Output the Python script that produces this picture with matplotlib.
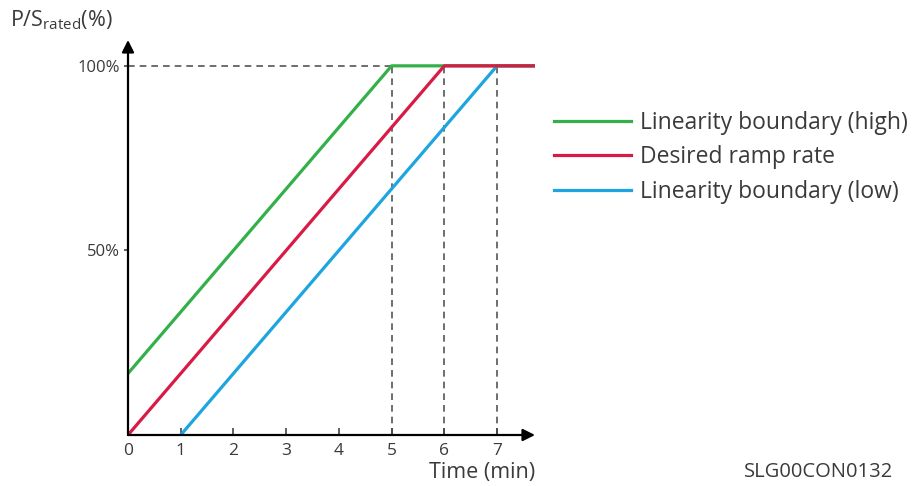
import matplotlib.pyplot as plt

plt.rcParams['font.family'] = ['Open Sans', 'DejaVu Sans']
plt.rcParams['mathtext.fontset'] = 'custom'
plt.rcParams['mathtext.rm'] = 'Open Sans'

# data (time in minutes, power in % of rated)
t_high = [0, 5, 7.72]
p_high = [100 / 6, 100, 100]
t_desired = [0, 6, 7.72]
p_desired = [0, 100, 100]
t_low = [1, 7, 7.72]
p_low = [0, 100, 100]
reach_times = [5, 6, 7]
x_ticks = [0, 1, 2, 3, 4, 5, 6, 7]
y_ticks = [50, 100]
y_tick_labels = ['50%', '100%']

green = '#33b04a'
red = '#d81b45'
blue = '#1da5df'
text_col = '#3a3a3a'
axis_col = '#444444'

fig = plt.figure(figsize=(9.16, 4.86), dpi=100)
W, H = 916, 486
x0, y0, x1, y1 = 128, 435, 535, 40
ax = fig.add_axes([x0 / W, 1 - y0 / H, (x1 - x0) / W, (y0 - y1) / H])
ax.set_xlim(0, 7.72)
ax.set_ylim(0, 107)
for s in ax.spines.values():
    s.set_visible(False)
ax.patch.set_alpha(0)

# dashed guide lines
ax.plot([0, reach_times[0]], [100, 100], ls=(0, (4, 3)), color='#555555', lw=1.2, zorder=1)
for t in reach_times:
    ax.plot([t, t], [0, 100], ls=(0, (4, 3)), color='#555555', lw=1.2, zorder=1)

ax.plot(t_low, p_low, color=blue, lw=2.3, zorder=3, label='Linearity boundary (low)')
ax.plot(t_high, p_high, color=green, lw=2.3, zorder=4, label='Linearity boundary (high)')
ax.plot(t_desired, p_desired, color=red, lw=2.3, zorder=5, label='Desired ramp rate')

# axes with arrows
ax.annotate('', xy=(1.0, 0), xytext=(0, 0), xycoords='axes fraction',
            arrowprops=dict(arrowstyle='-|>', color='black', lw=1.6, mutation_scale=18,
                            shrinkA=0, shrinkB=0), zorder=6)
ax.annotate('', xy=(0, 1.0), xytext=(0, 0), xycoords='axes fraction',
            arrowprops=dict(arrowstyle='-|>', color='black', lw=1.6, mutation_scale=18,
                            shrinkA=0, shrinkB=0), zorder=6)

ax.set_xticks(x_ticks)
ax.set_xticklabels([str(v) for v in x_ticks])
ax.tick_params(axis='x', direction='in', length=5, width=1.2, color=axis_col,
               labelsize=12.5, labelcolor=text_col, pad=6)
ax.set_yticks(y_ticks)
ax.set_yticklabels(y_tick_labels)
ax.tick_params(axis='y', direction='out', length=3, width=1.2, color=axis_col,
               labelsize=12, labelcolor=text_col, pad=3)

fig.text(535 / W, 1 - 472 / H, 'Time (min)', ha='right', va='center', fontsize=15.5, color=text_col)
fig.text(10 / W, 1 - 20 / H, r'P/S$_{\mathrm{rated}}$(%)', ha='left', va='center',
         fontsize=15.5, color=text_col)
fig.text(893 / W, 1 - 472 / H, 'SLG00CON0132', ha='right', va='center', fontsize=14.5, color=text_col)

handles, labels = ax.get_legend_handles_labels()
order = [1, 2, 0]
fig.legend([handles[i] for i in order], [labels[i] for i in order],
           loc='upper left', bbox_to_anchor=(533 / W, 1 - 90 / H), frameon=False,
           fontsize=16.5, handlelength=3.36, handletextpad=0.4, labelspacing=0.47,
           labelcolor=text_col)

fig.savefig('out.png', dpi=100)
